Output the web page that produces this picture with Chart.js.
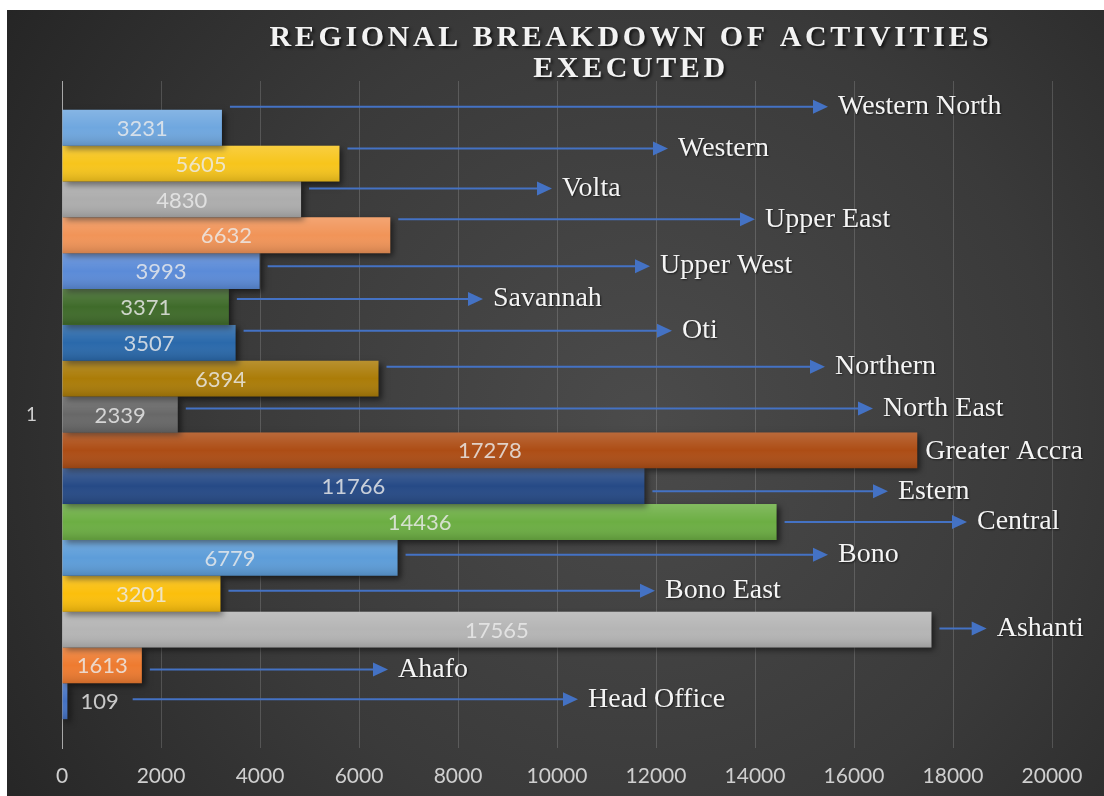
<!DOCTYPE html>
<html>
<head>
<meta charset="utf-8">
<title>Regional Breakdown of Activities Executed</title>
<script src="https://cdn.jsdelivr.net/npm/chart.js@4.4.1/dist/chart.umd.min.js"></script>
<style>
  html, body { margin: 0; padding: 0; background: #fff; }
  #wrap { width: 1104px; height: 796px; }
</style>
</head>
<body>
<div id="wrap"><canvas id="regionsChart" width="1104" height="796"></canvas></div>
<script>
const categories = ['1'];
const regions = ['Western North', 'Western', 'Volta', 'Upper East', 'Upper West', 'Savannah', 'Oti',
  'Northern', 'North East', 'Greater Accra', 'Estern', 'Central', 'Bono', 'Bono East', 'Ashanti',
  'Ahafo', 'Head Office'];
const activities = [3231, 5605, 4830, 6632, 3993, 3371, 3507, 6394, 2339, 17278, 11766, 14436, 6779,
  3201, 17565, 1613, 109];
const xTicks = [0, 2000, 4000, 6000, 8000, 10000, 12000, 14000, 16000, 18000, 20000];
const titleLines = ['REGIONAL BREAKDOWN OF ACTIVITIES', 'EXECUTED'];

// styling, kept apart from the data
const barColors = ['#6fa7df', '#f7c51c', '#adadad', '#f19458', '#5b8bd8', '#3f6b2a', '#2a69ab',
  '#ab7c08', '#686868', '#ad4d15', '#264a86', '#6cae43', '#5d9dd9', '#fbbf0c', '#b5b5b5',
  '#ee7b30', '#4472c4'];
// where each callout arrow ends (in axis units) and how far it sits from the bar centre (px)
const calloutTip = [15475, 12242, 9899, 14000, 11879, 8505, 12323, 15414, 16384, null, 16687, 18283,
  15475, 11980, 18680, 6586, 10424];
const calloutShift = [-21, -15, -11, -16, -5, -8, -12, -12, -6, 1, 5, 0, -3, -3, -1, 4, -2];

const background = {
  id: 'background',
  beforeDraw(chart) {
    const ctx = chart.ctx;
    ctx.save();
    ctx.fillStyle = '#ffffff';
    ctx.fillRect(0, 0, chart.width, chart.height);
    const g = ctx.createRadialGradient(640, 420, 0, 640, 420, 760);
    g.addColorStop(0, '#4b4b4b');
    g.addColorStop(0.55, '#3a3a3a');
    g.addColorStop(1, '#252525');
    ctx.fillStyle = g;
    ctx.fillRect(7, 10, chart.width - 7, chart.height - 10);
    ctx.restore();
  }
};

const barDecor = {
  id: 'barDecor',
  beforeDatasetsDraw(chart) {
    const ctx = chart.ctx;
    ctx.save();
    ctx.shadowColor = 'rgba(0,0,0,0.55)';
    ctx.shadowBlur = 6;
    ctx.shadowOffsetX = 3;
    ctx.shadowOffsetY = 3;
  },
  afterDatasetsDraw(chart) {
    const ctx = chart.ctx;
    ctx.restore();
    ctx.save();

    // soft gloss on each bar
    chart.data.datasets.forEach((ds, i) => {
      const bar = chart.getDatasetMeta(i).data[0];
      const top = bar.y - bar.height / 2;
      const g = ctx.createLinearGradient(0, top, 0, top + bar.height);
      g.addColorStop(0, 'rgba(255,255,255,0.16)');
      g.addColorStop(0.5, 'rgba(255,255,255,0)');
      g.addColorStop(1, 'rgba(0,0,0,0.14)');
      ctx.fillStyle = g;
      ctx.fillRect(bar.base, top, bar.x - bar.base, bar.height);
    });

    // value labels
    ctx.font = '22px Lato';
    ctx.fillStyle = 'rgba(236,236,236,0.82)';
    ctx.textBaseline = 'middle';
    const labelEnds = [];
    chart.data.datasets.forEach((ds, i) => {
      const bar = chart.getDatasetMeta(i).data[0];
      const text = String(ds.data[0]);
      const w = ctx.measureText(text).width;
      if (bar.x - bar.base > w + 8) {
        ctx.textAlign = 'center';
        ctx.fillText(text, (bar.x + bar.base) / 2, bar.y + 1);
        labelEnds.push(bar.x);
      } else {
        ctx.textAlign = 'left';
        ctx.fillText(text, bar.x + 13, bar.y + 1);
        labelEnds.push(bar.x + 13 + w + 6);
      }
    });

    // callout arrows and region names
    const xScale = chart.scales.x;
    chart.data.datasets.forEach((ds, i) => {
      const bar = chart.getDatasetMeta(i).data[0];
      const y = bar.y + calloutShift[i];
      let textX = labelEnds[i] + 8;
      if (calloutTip[i] !== null) {
        const startX = labelEnds[i] + 8;
        const tipX = xScale.getPixelForValue(calloutTip[i]);
        ctx.strokeStyle = '#4472c4';
        ctx.fillStyle = '#4472c4';
        ctx.lineWidth = 2;
        ctx.beginPath();
        ctx.moveTo(startX, y);
        ctx.lineTo(tipX - 12, y);
        ctx.stroke();
        ctx.beginPath();
        ctx.moveTo(tipX, y);
        ctx.lineTo(tipX - 15, y - 7);
        ctx.lineTo(tipX - 15, y + 7);
        ctx.closePath();
        ctx.fill();
        textX = tipX + 10;
      }
      ctx.save();
      ctx.shadowColor = 'rgba(0,0,0,0.6)';
      ctx.shadowBlur = 2;
      ctx.shadowOffsetX = 1;
      ctx.shadowOffsetY = 1;
      ctx.font = '28px "Liberation Serif"';
      ctx.fillStyle = '#f4f4f4';
      ctx.textAlign = 'left';
      ctx.textBaseline = 'middle';
      ctx.fillText(ds.label, textX, y);
      ctx.restore();
    });
    ctx.restore();
  }
};

const titleText = {
  id: 'titleText',
  afterDraw(chart) {
    const ctx = chart.ctx;
    ctx.save();
    ctx.font = 'bold 30px "Liberation Serif"';
    ctx.letterSpacing = '3.6px';
    ctx.fillStyle = '#f2f2f2';
    ctx.textAlign = 'center';
    ctx.textBaseline = 'middle';
    ctx.shadowColor = 'rgba(0,0,0,0.7)';
    ctx.shadowBlur = 3;
    ctx.shadowOffsetX = 2;
    ctx.shadowOffsetY = 2;
    ctx.fillText(titleLines[0], 631, 38);
    ctx.fillText(titleLines[1], 631, 69);
    ctx.restore();
  }
};

const datasets = regions.map((name, i) => ({
  label: name,
  data: [activities[i]],
  backgroundColor: barColors[i],
  borderWidth: 0,
  categoryPercentage: 0.9135,
  barPercentage: 1
}));

new Chart(document.getElementById('regionsChart'), {
  type: 'bar',
  data: { labels: categories, datasets: datasets },
  options: {
    indexAxis: 'y',
    responsive: false,
    animation: false,
    layout: { padding: { top: 81, right: 52, bottom: 0, left: 0 } },
    plugins: {
      legend: { display: false },
      title: { display: false },
      tooltip: { enabled: false }
    },
    scales: {
      x: {
        min: 0,
        max: 20000,
        afterBuildTicks: scale => { scale.ticks = xTicks.map(v => ({ value: v })); },
        afterFit: scale => { scale.height = 48; },
        grid: { color: 'rgba(255,255,255,0.16)', drawTicks: false },
        border: { display: false },
        ticks: {
          color: '#cfcfcf',
          font: { family: 'Lato', size: 21 },
          padding: 16,
          maxRotation: 0,
          autoSkip: false,
          callback: value => String(value)
        }
      },
      y: {
        afterFit: scale => { scale.width = 62; },
        grid: { display: false, drawTicks: false },
        border: { display: true, color: '#a8a8a8', width: 1 },
        ticks: {
          color: '#cfcfcf',
          font: { family: 'Lato', size: 19 },
          padding: 25
        }
      }
    }
  },
  plugins: [background, barDecor, titleText]
});
</script>
</body>
</html>
